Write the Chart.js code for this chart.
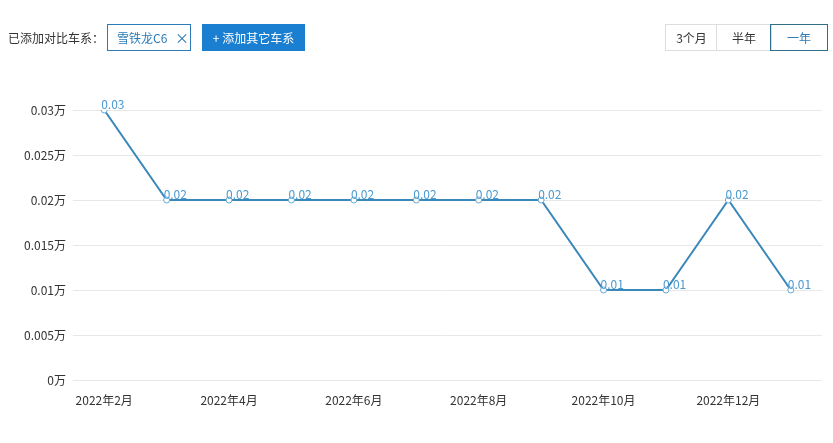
<!DOCTYPE html>
<html><head><meta charset="utf-8">
<script src="https://cdn.jsdelivr.net/npm/chart.js@4"></script>
<style>
html,body{margin:0;padding:0;background:#fff;width:833px;height:443px;overflow:hidden;font-family:"Noto Sans CJK SC","Noto Sans",sans-serif;}
#wrap{position:relative;width:833px;height:443px;}
canvas{position:absolute;left:0;top:0;}
.hdr{position:absolute;font-size:12px;color:#333;}
.lbl{left:8px;top:29px;}
.tag{left:107px;top:24px;width:82px;height:25px;border:1px solid #2c7bb6;color:#2c7bb6;box-sizing:content-box;line-height:25px;text-indent:9px;}
.tag span{position:absolute;left:67px;top:0;text-indent:0;font-size:14px;}
.add{left:202px;top:24px;width:103px;height:27px;background:#1a7ed1;color:#fff;line-height:27px;text-align:center;}
.grp{top:24px;height:25px;line-height:25px;text-align:center;border:1px solid #ddd;color:#333;}
.g1{left:665px;width:51px;border-right:none;}
.g2{left:716px;width:54px;}
.g3{left:770px;width:56px;border:1px solid #2f6f8c;color:#2c7bb6;}
</style></head>
<body><div id="wrap">
<canvas id="c" width="833" height="443"></canvas>
<div class="hdr lbl">已添加对比车系：</div>
<div class="hdr tag">雪铁龙C6<span>×</span></div>
<div class="hdr add">+ 添加其它车系</div>
<div class="hdr grp g1">3个月</div>
<div class="hdr grp g2">半年</div>
<div class="hdr grp g3">一年</div>
</div>
<script>
const categories = ["2022年2月","2022年3月","2022年4月","2022年5月","2022年6月","2022年7月","2022年8月","2022年9月","2022年10月","2022年11月","2022年12月","2023年1月"];
const salesValues = [0.03,0.02,0.02,0.02,0.02,0.02,0.02,0.02,0.01,0.01,0.02,0.01];
const yTicks = [0,0.005,0.01,0.015,0.02,0.025,0.03];
const unit = "万";

const labelPlugin = {
  id:'pointLabels',
  afterDatasetsDraw(chart){
    const ctx = chart.ctx;
    const meta = chart.getDatasetMeta(0);
    ctx.save();
    ctx.font = '12px "Noto Sans CJK SC", sans-serif';
    ctx.fillStyle = '#4a9ad0';
    ctx.textAlign = 'left';
    ctx.textBaseline = 'middle';
    meta.data.forEach((pt,i)=>{
      ctx.fillText(String(salesValues[i]), pt.x-3, pt.y-6);
    });
    ctx.restore();
  }
};

new Chart(document.getElementById('c'),{
  type:'line',
  data:{labels:categories,datasets:[{
    data:salesValues,
    borderColor:'#3a87ba',
    borderWidth:2,
    tension:0,
    pointRadius:3,
    pointBackgroundColor:'#fff',
    pointBorderColor:'#62aad6',
    pointBorderWidth:1
  }]},
  options:{
    responsive:false,animation:false,
    layout:{padding:{top:110,right:11,bottom:0,left:0}},
    plugins:{legend:{display:false},tooltip:{enabled:false}},
    scales:{
      x:{
        offset:true,
        grid:{display:false,drawTicks:false},
        border:{display:false},
        ticks:{autoSkip:false,maxRotation:0,padding:13,color:'#333',font:{size:12,family:'"Noto Sans CJK SC", sans-serif'},
          callback:function(v,i){return i%2===0?categories[i]:'';}},
        afterFit(s){s.height=63;}
      },
      y:{
        min:0,max:0.03,
        afterBuildTicks(s){s.ticks=yTicks.map(v=>({value:v}));},
        grid:{color:'#e8e8e8',drawTicks:false,lineWidth:1},
        border:{display:false},
        ticks:{padding:7,color:'#333',font:{size:12,family:'"Noto Sans CJK SC", sans-serif'},
          callback:v=>v+unit},
        afterFit(s){s.width=73;}
      }
    }
  },
  plugins:[labelPlugin]
});
</script>
</body></html>
